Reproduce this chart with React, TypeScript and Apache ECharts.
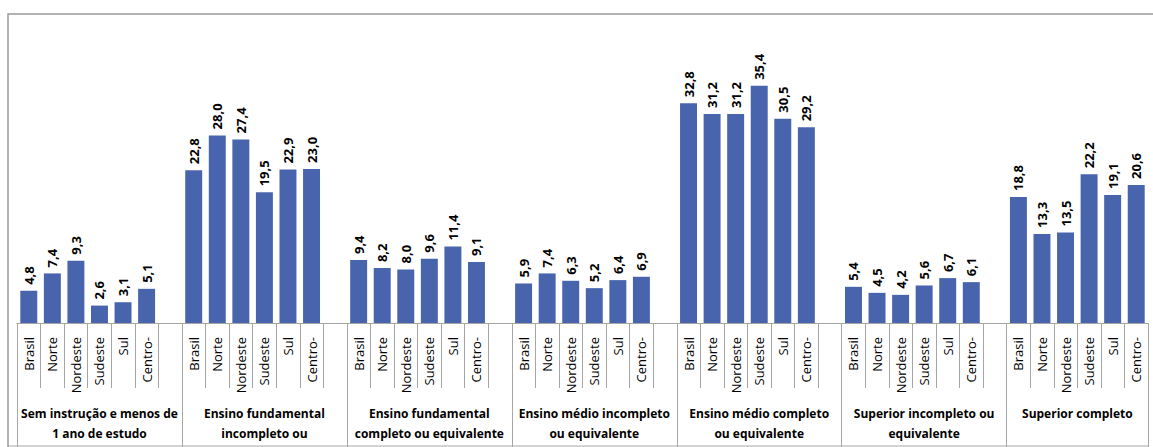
import React, { useEffect, useRef } from "react";
import * as echarts from "echarts";

const regions = ["Brasil", "Norte", "Nordeste", "Sudeste", "Sul", "Centro-"];

const groupNames = [
  "Sem instrução e menos de\n1 ano de estudo",
  "Ensino fundamental\nincompleto ou",
  "Ensino fundamental\ncompleto ou equivalente",
  "Ensino médio incompleto\nou equivalente",
  "Ensino médio completo\nou equivalente",
  "Superior incompleto ou\nequivalente",
  "Superior completo",
];

const semInstrucao = [4.8, 7.4, 9.3, 2.6, 3.1, 5.1];
const fundIncompleto = [22.8, 28.0, 27.4, 19.5, 22.9, 23.0];
const fundCompleto = [9.4, 8.2, 8.0, 9.6, 11.4, 9.1];
const medioIncompleto = [5.9, 7.4, 6.3, 5.2, 6.4, 6.9];
const medioCompleto = [32.8, 31.2, 31.2, 35.4, 30.5, 29.2];
const superiorIncompleto = [5.4, 4.5, 4.2, 5.6, 6.7, 6.1];
const superiorCompleto = [18.8, 13.3, 13.5, 22.2, 19.1, 20.6];

const groupValues = [
  semInstrucao,
  fundIncompleto,
  fundCompleto,
  medioIncompleto,
  medioCompleto,
  superiorIncompleto,
  superiorCompleto,
];

export default function App() {
  const ref = useRef<HTMLDivElement>(null);

  useEffect(() => {
    if (!ref.current) return;
    const chart = echarts.init(ref.current, undefined, { renderer: "svg" });

    const cats: string[] = [];
    const vals: (number | string)[] = [];
    const groupLabelAt: Record<number, string> = {};
    groupValues.forEach((g, gi) => {
      const start = cats.length;
      regions.forEach((r, ri) => {
        cats.push(r);
        vals.push(g[ri]);
      });
      if (gi < groupValues.length - 1) {
        cats.push("");
        vals.push("-");
      }
      groupLabelAt[start + 3] = groupNames[gi];
    });
    const lastIdx = (groupValues.length - 1) * 7 + 3;

    const lineColor = "#a6a6a6";
    const font = "'Open Sans', 'Noto Sans', sans-serif";

    chart.setOption({
      animation: false,
      grid: {
        left: 17,
        right: 5,
        top: 55,
        bottom: 124,
        containLabel: false,
        outerBoundsMode: "none",
      },
      xAxis: [
        {
          type: "category",
          data: cats,
          position: "bottom",
          axisLine: { show: true, lineStyle: { color: lineColor, width: 1 } },
          axisTick: {
            show: true,
            interval: 0,
            length: 65,
            lineStyle: { color: lineColor, width: 1 },
          },
          axisLabel: {
            interval: 0,
            rotate: 90,
            margin: 14,
            fontFamily: font,
            fontSize: 13,
            color: "#000",
          },
        },
        {
          type: "category",
          data: cats,
          position: "bottom",
          axisLine: { show: true, lineStyle: { color: lineColor, width: 1 } },
          axisTick: {
            show: true,
            interval: (i: number) => i % 7 === 0,
            length: 124,
            lineStyle: { color: lineColor, width: 1 },
          },
          axisLabel: {
            interval: (i: number) => groupLabelAt[i] !== undefined,
            margin: 80,
            fontFamily: font,
            fontSize: 12,
            fontWeight: "bold",
            lineHeight: 20,
            color: "#000",
            formatter: (_v: string, i: number) => {
              const t = groupLabelAt[i];
              if (t === undefined) return "";
              if (i === lastIdx) return "{s|" + t + "}";
              return t;
            },
            rich: {
              s: {
                fontFamily: font,
                fontSize: 12,
                fontWeight: "bold",
                lineHeight: 20,
                color: "#000",
                padding: [0, 23.5, 0, 0],
              },
            },
          },
        },
      ],
      yAxis: {
        type: "value",
        min: 0,
        max: 40,
        show: false,
        splitLine: { show: false },
      },
      series: [
        {
          type: "bar",
          xAxisIndex: 0,
          data: vals,
          barCategoryGap: "28%",
          itemStyle: { color: "#4864ad" },
          label: {
            show: true,
            position: "top",
            rotate: 90,
            align: "left",
            verticalAlign: "middle",
            distance: 6,
            fontFamily: font,
            fontSize: 13,
            fontWeight: "bold",
            color: "#000",
            formatter: (p: any) =>
              typeof p.value === "number" ? p.value.toFixed(1).replace(".", ",") : "",
          },
        },
      ],
      graphic: [
        {
          type: "rect",
          shape: { x: 8, y: 14, width: 1400, height: 1000 },
          style: { fill: "none", stroke: "#999", lineWidth: 1.5 },
          silent: true,
        },
        {
          type: "line",
          shape: { x1: 8, y1: 446, x2: 1149, y2: 446 },
          style: { stroke: lineColor, lineWidth: 1 },
          silent: true,
        },
      ],
    });

    return () => chart.dispose();
  }, []);

  return (
    <div
      ref={ref}
      style={{ position: "absolute", left: 0, top: 0, width: 1153, height: 447, background: "#fff" }}
    />
  );
}
